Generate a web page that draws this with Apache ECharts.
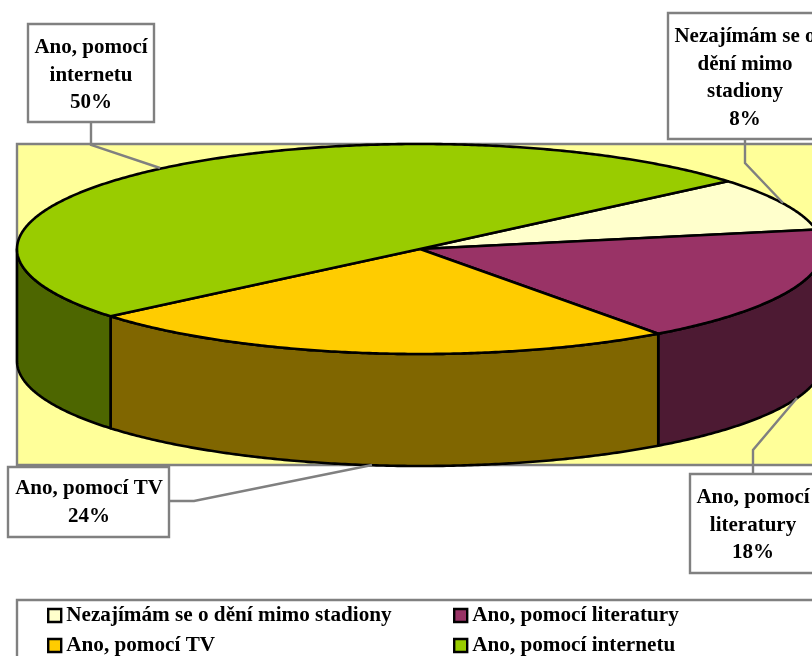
<!DOCTYPE html>
<html>
<head>
<meta charset="utf-8">
<style>html,body{margin:0;padding:0;background:#fff}#c{width:812px;height:656px}</style>
<script src="https://cdn.jsdelivr.net/npm/echarts@6/dist/echarts.min.js"></script>
</head>
<body>
<div id="c"></div>
<script>
var categories = ['Nezajímám se o dění mimo stadiony', 'Ano, pomocí literatury', 'Ano, pomocí TV', 'Ano, pomocí internetu'];
var values = [8.2, 17.9, 24, 49.9];
var topColors = ['#FFFFCC', '#993366', '#FFCC00', '#99CC00'];
var sideColors = ['#808066', '#4D1A33', '#806600', '#4D6600'];
var labelLines = [['Nezajímám se o', 'dění mimo', 'stadiony'], ['Ano, pomocí', 'literatury'], ['Ano, pomocí TV'], ['Ano, pomocí', 'internetu']];

var FONT = '"Liberation Serif","Times New Roman",serif';
var pie = { cx: 420, cy: 249, rx: 403, ry: 105, depth: 112, start: -40.2 };
var total = values.reduce(function (a, b) { return a + b; }, 0);

function pt(deg, dy) {
  var t = deg * Math.PI / 180;
  return [pie.cx + pie.rx * Math.cos(t), pie.cy + pie.ry * Math.sin(t) + (dy || 0)];
}
function arc(a, b, dy) {
  var out = [], n = Math.max(2, Math.ceil(Math.abs(b - a) * 2));
  for (var i = 0; i <= n; i++) out.push(pt(a + (b - a) * i / n, dy));
  return out;
}
function renderSlice(params, api) {
  var idx = params.seriesIndex;
  var before = 0;
  for (var i = 0; i < idx; i++) before += values[i];
  var a = pie.start + before / total * 360;
  var b = a + api.value(0) / total * 360;
  var children = [];
  var lineStyle = { stroke: '#000', lineWidth: 2.6, lineJoin: 'round' };
  var a2 = Math.max(a, 0), b2 = Math.min(b, 180);
  if (b2 > a2) {
    var pts = arc(a2, b2, 0).concat(arc(b2, a2, pie.depth));
    children.push({ type: 'polygon', shape: { points: pts }, style: Object.assign({ fill: sideColors[idx] }, lineStyle) });
  }
  children.push({
    type: 'polygon',
    shape: { points: [[pie.cx, pie.cy]].concat(arc(a, b, 0)) },
    style: Object.assign({ fill: topColors[idx] }, lineStyle)
  });
  return { type: 'group', children: children };
}

function box(x, y, w, h) {
  return { type: 'rect', z: 8, shape: { x: x, y: y, width: w, height: h },
    style: { fill: '#fff', stroke: '#808080', lineWidth: 2.4 } };
}
function leader(points) {
  return { type: 'polyline', z: 7, shape: { points: points },
    style: { fill: 'none', stroke: '#808080', lineWidth: 2.4 } };
}
function label(i, x, y) {
  var lines = labelLines[i].concat([Math.round(values[i]) + '%']);
  return { type: 'text', z: 9, x: x, y: y,
    style: { text: lines.join('\n'), fill: '#000', font: 'bold 21px ' + FONT, lineHeight: 27.5, align: 'center', verticalAlign: 'top' } };
}
function legendAt(left, names) {
  return { data: names, orient: 'vertical', left: left, top: 604, width: 400, height: 120, itemWidth: 13, itemHeight: 13, itemGap: 7,
    icon: 'rect', padding: 0, selectedMode: false,
    itemStyle: { borderColor: '#000', borderWidth: 2.4 },
    textStyle: { color: '#000', fontFamily: FONT, fontWeight: 'bold', fontSize: 21.2, padding: [3, 0, 0, 0], lineHeight: 20 } };
}

var chart = echarts.init(document.getElementById('c'), null, { renderer: 'canvas' });
chart.setOption({
  animation: false,
  backgroundColor: '#fff',
  legend: [legendAt(47, [categories[0], categories[2]]), legendAt(453, [categories[1], categories[3]])],
  graphic: [
    { type: 'rect', z: 0, shape: { x: 17, y: 144, width: 900, height: 321 }, style: { fill: '#FFFF99', stroke: '#808080', lineWidth: 2.4 } },
    { type: 'rect', z: 0, shape: { x: 17, y: 600, width: 900, height: 100 }, style: { fill: '#fff', stroke: '#808080', lineWidth: 2.4 } },
    leader([[91, 122], [91, 145], [160, 168]]),
    leader([[745, 139], [745, 163], [783, 203]]),
    leader([[753, 474], [753, 450], [797, 398]]),
    leader([[169, 501], [194, 501], [372, 465]]),
    box(28, 24, 126, 98), label(3, 91, 34),
    box(668, 13, 200, 126), label(0, 745, 23),
    box(690, 474, 200, 99), label(1, 753, 484),
    box(8, 467, 161, 70), label(2, 89, 475)
  ],
  series: categories.map(function (name, i) {
    return {
      type: 'custom', name: name, coordinateSystem: 'none', z: 2,
      itemStyle: { color: topColors[i] },
      data: [[values[i]]],
      renderItem: renderSlice,
      silent: true
    };
  })
});
</script>
</body>
</html>
